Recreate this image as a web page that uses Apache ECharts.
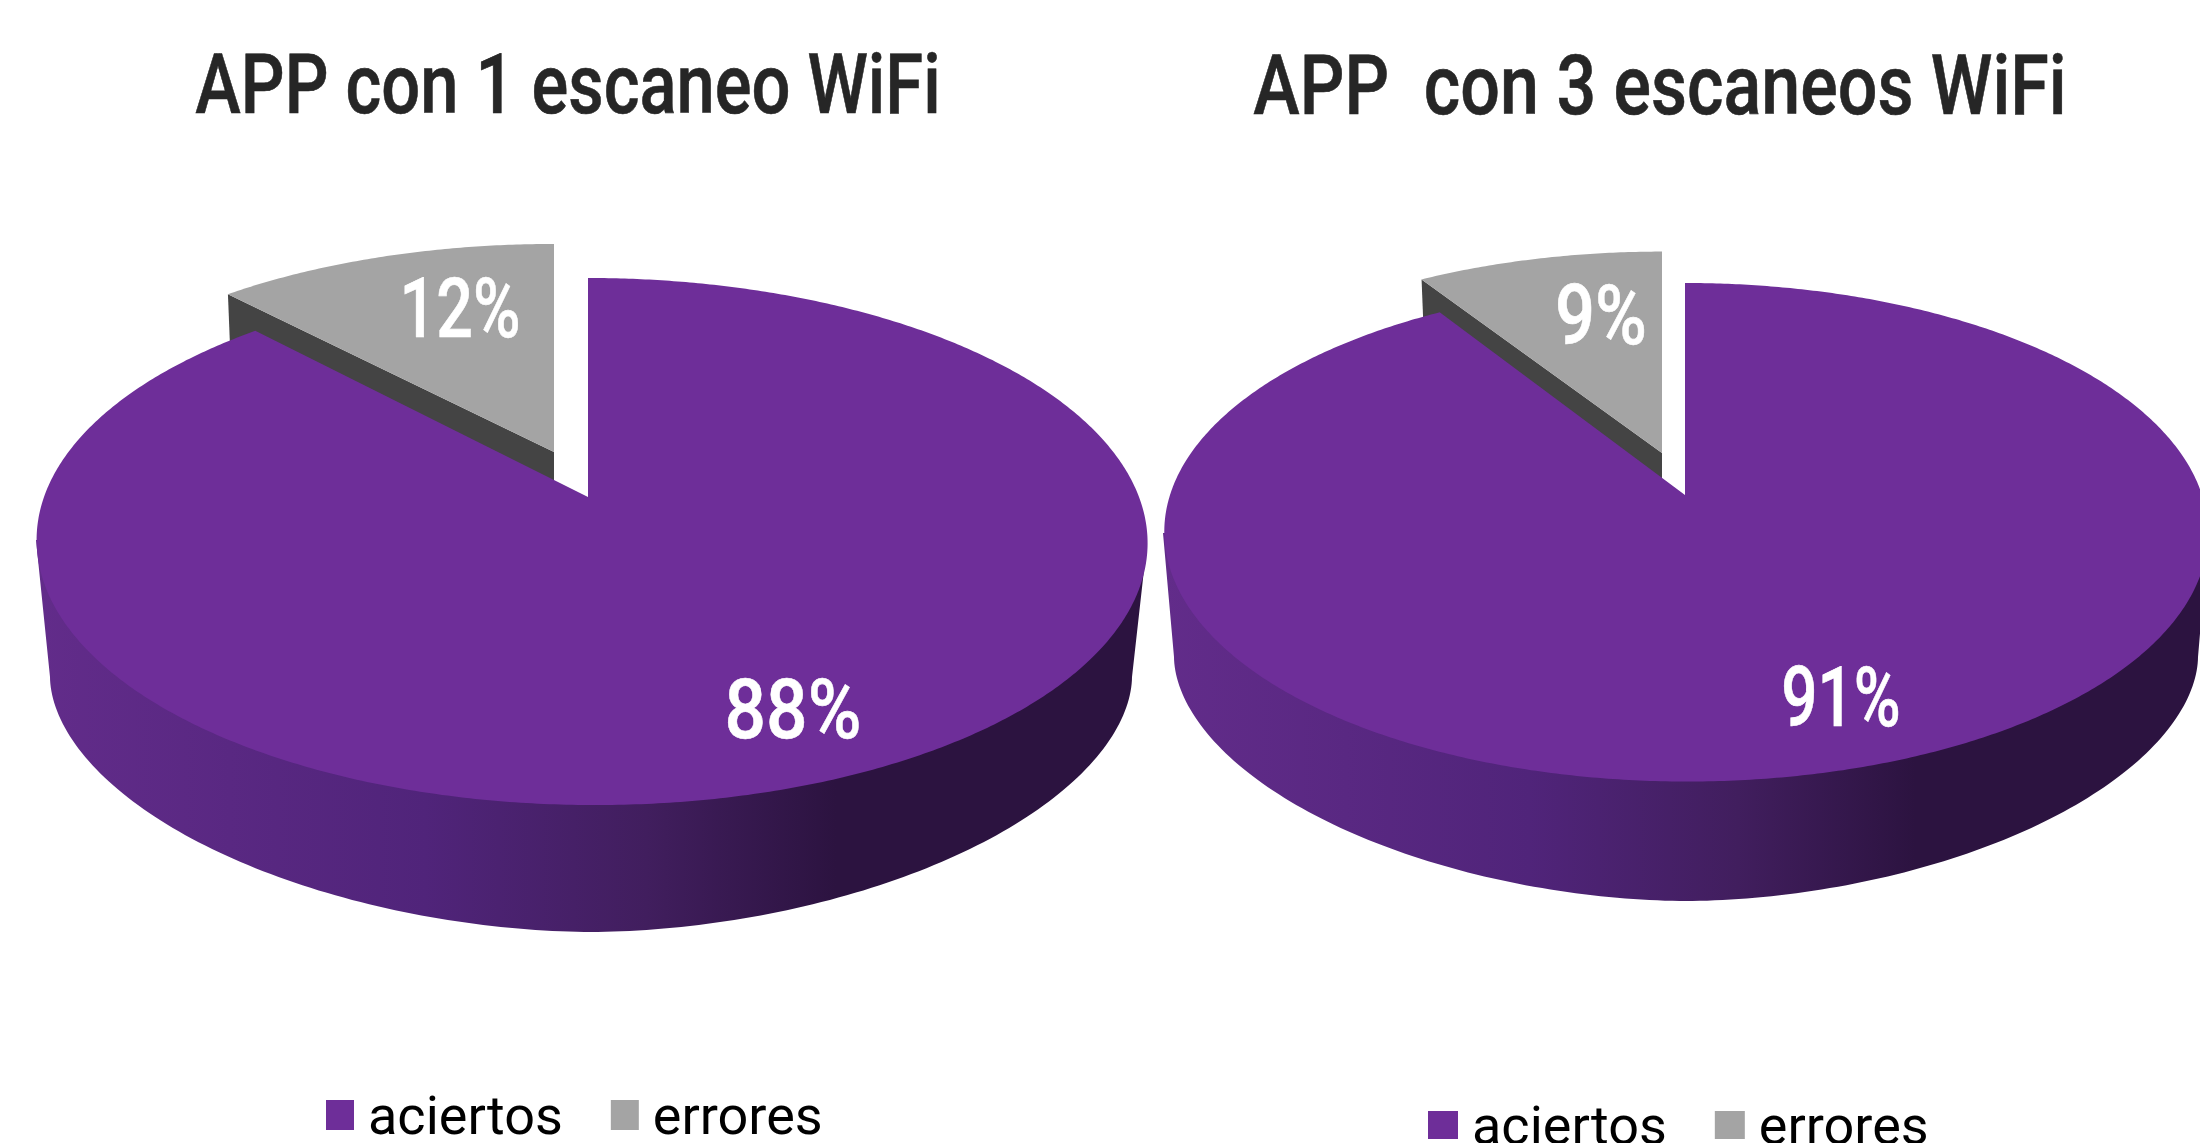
<!DOCTYPE html>
<html><head><meta charset="utf-8">
<style>html,body{margin:0;padding:0;background:#fff}#c{width:2200px;height:1143px}</style>
<script src="https://cdn.jsdelivr.net/npm/echarts@6/dist/echarts.min.js"></script>
</head><body><div id="c"></div>
<script>
// ---- data ----
const titles = ['APP con 1 escaneo WiFi', 'APP  con 3 escaneos WiFi'];
const categories = ['aciertos', 'errores'];
const aciertos = [88, 91];
const errores = [12, 9];

// ---- appearance / perspective geometry ----
const PURPLE = '#6e2e99', GREY = '#a4a4a4', WALL = '#444444', INK = '#262626';
const FONT = 'Roboto';
const pies = [
  {ax:588, ay:497, a:547.5, b:256, k:.169, skew:7,
   low:{cx:591, cy:677, A:541, B:255}, ext:[[36,540],[1147,543]],
   g:{ax:554, ay:452, d0:50, d1:38}, lab:[[793,717],[460,316]], scale:[.87,.77]},
  {ax:1685, ay:495, a:516, b:243.7, k:.1495, skew:2,
   low:{cx:1686, cy:657, A:512, B:244}, ext:[[1163,533],[2208,540]],
   g:{ax:1662, ay:453, d0:50, d1:38}, lab:[[1841,705],[1601,323]], scale:[.76,.84]}
];
const G_SX = .98, G_SY = .95, LOW_P = 1.85;

function rim(p, deg, ax, ay, sx, sy) {
  const t = deg * Math.PI / 180, w = 1 + p.k * Math.cos(t);
  return [ax + sx * p.a * Math.sin(t) / w + p.skew * (1 - Math.cos(t)) / 2,
          ay - sy * p.b * Math.cos(t) / w];
}
function label(text, pos, sx) {
  return {type:'text', x:pos[0], y:pos[1], scaleX:sx, z2:10, silent:true,
    style:{text:text, x:0, y:0, fill:'#fff', stroke:'#fff', lineWidth:.6, fontFamily:FONT, fontWeight:500,
           fontSize:84, align:'center', verticalAlign:'middle'}};
}
function drawMain(p) {
  return function (params, api) {
    const v = api.value(0), end = 360 * v / 100, kids = [];
    const band = [p.ext[1]];
    for (let d = 0; d <= 180; d += 1) {
      const r = d * Math.PI / 180, c = Math.cos(r), s = Math.sin(r);
      band.push([p.low.cx + p.low.A * Math.sign(c) * Math.pow(Math.abs(c), 2 / LOW_P),
                 p.low.cy + p.low.B * Math.pow(Math.abs(s), 2 / LOW_P)]);
    }
    band.push(p.ext[0]);
    kids.push({type:'polygon', shape:{points:band}, style:{fill:new echarts.graphic.LinearGradient(0,0,1,0,[
      {offset:0,color:'#622c8a'},{offset:.35,color:'#50247a'},{offset:.55,color:'#411e5e'},
      {offset:.72,color:'#2c1340'},{offset:1,color:'#2c1340'}])}});
    const pts = [[p.ax, p.ay]];
    for (let d = 0; d <= end; d += .5) pts.push(rim(p, d, p.ax, p.ay, 1, 1));
    pts.push(rim(p, end, p.ax, p.ay, 1, 1));
    kids.push({type:'polygon', shape:{points:pts}, style:{fill:PURPLE}});
    kids.push(label(v + '%', p.lab[0], p.scale[0]));
    return {type:'group', children:kids};
  };
}
function drawGrey(p) {
  return function (params, api) {
    const v = api.value(0), start = 360 * (1 - v / 100), kids = [];
    const g = p.g, L = rim(p, start, g.ax, g.ay, G_SX, G_SY);
    kids.push({type:'polygon', shape:{points:[L,[g.ax,g.ay],[g.ax,g.ay+g.d1],[L[0]+2,L[1]+g.d0]]}, style:{fill:WALL}});
    const pts = [[g.ax, g.ay]];
    for (let d = start; d <= 360; d += .5) pts.push(rim(p, d, g.ax, g.ay, G_SX, G_SY));
    pts.push([g.ax, rim(p, 360, g.ax, g.ay, G_SX, G_SY)[1]]);
    kids.push({type:'polygon', shape:{points:pts}, style:{fill:GREY}});
    kids.push(label(v + '%', p.lab[1], p.scale[1]));
    return {type:'group', children:kids};
  };
}
const series = [];
pies.forEach(function (p, i) {
  series.push({type:'custom', name:categories[1], coordinateSystem:'none', silent:true, z:1,
    animation:false, itemStyle:{color:GREY}, data:[[errores[i]]], renderItem:drawGrey(p)});
  series.push({type:'custom', name:categories[0], coordinateSystem:'none', silent:true, z:2,
    animation:false, itemStyle:{color:PURPLE}, data:[[aciertos[i]]], renderItem:drawMain(p)});
});
function legend(left, top, w, h) {
  return {left:left, top:top, orient:'horizontal', selectedMode:false, itemWidth:w, itemHeight:h, itemGap:48,
    formatter:function (name) { return '{t|' + name + '}'; },
    textStyle:{fontFamily:FONT, fontSize:54, color:'#000',
      rich:{t:{fontFamily:FONT, fontSize:54, color:'#000', padding:[10,0,0,9]}}},
    data:[{name:categories[0], icon:'rect', itemStyle:{color:PURPLE}},
          {name:categories[1], icon:'rect', itemStyle:{color:GREY}}]};
}
function titleText(text, x, y, sx) {
  return {type:'text', x:x, y:y, scaleX:sx, silent:true,
    style:{text:text, x:0, y:0, fill:INK, stroke:INK, lineWidth:.6, fontFamily:FONT, fontWeight:500, fontSize:84,
           align:'center', verticalAlign:'middle'}};
}
const chart = echarts.init(document.getElementById('c'), null, {renderer:'canvas'});
chart.setOption({
  backgroundColor:'#fff', animation:false,
  legend:[legend(321,1088,28,30), legend(1423,1098,30,28)],
  graphic:[titleText(titles[0],568,92,.817), titleText(titles[1],1660,93,.833)],
  series:series
});
</script></body></html>
